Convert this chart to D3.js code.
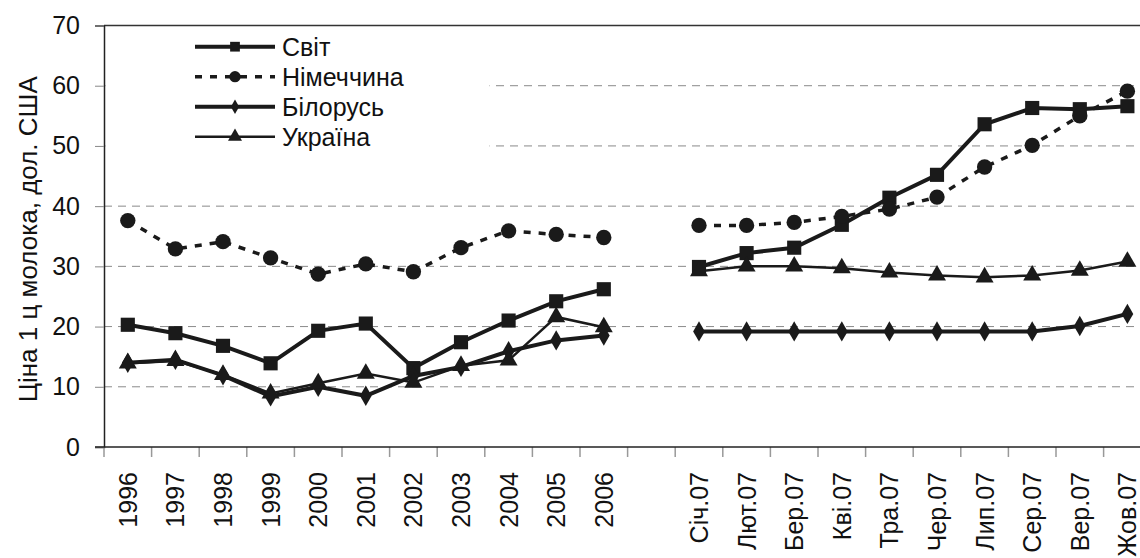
<!DOCTYPE html>
<html>
<head>
<meta charset="utf-8">
<script src="https://cdn.jsdelivr.net/npm/d3@7"></script>
<style>
  html, body { margin: 0; padding: 0; background: #fff; }
  svg { display: block; font-family: "Liberation Sans", Arial, sans-serif; }
</style>
</head>
<body>
<svg id="chart" width="1140" height="558"></svg>
<script>
const categories = ["1996","1997","1998","1999","2000","2001","2002","2003","2004","2005","2006","",
  "Січ.07","Лют.07","Бер.07","Кві.07","Тра.07","Чер.07","Лип.07","Сер.07","Вер.07","Жов.07"];

const seriesNames = ["Світ", "Німеччина", "Білорусь", "Україна"];

const svit      = [20.3,18.9,16.8,13.9,19.3,20.5,13.1,17.4,21.0,24.2,26.2,null,
                   29.9,32.2,33.1,36.9,41.4,45.2,53.6,56.3,56.1,56.6];
const nimechchyna = [37.6,32.9,34.1,31.4,28.7,30.4,29.1,33.1,35.9,35.3,34.8,null,
                   36.8,36.8,37.3,38.3,39.5,41.5,46.5,50.1,55.0,59.1];
const bilorus   = [14.0,14.5,11.9,8.4,10.0,8.5,11.8,13.3,15.9,17.7,18.5,null,
                   19.2,19.2,19.2,19.2,19.2,19.2,19.2,19.2,20.1,22.1];
const ukraina   = [13.9,14.3,12.0,8.9,10.6,12.2,10.7,13.5,14.4,21.6,19.9,null,
                   29.2,30.0,30.0,29.7,29.0,28.5,28.2,28.5,29.3,30.8];

const yTicks = [0,10,20,30,40,50,60,70];
const yTitle = "Ціна 1 ц молока, дол. США";

const svg = d3.select("#chart");
const plotLeft = 104, plotTop = 25.5, plotBottom = 447, band = 47.6;
const fs = 25;
const x = d3.scaleBand().domain(categories).range([plotLeft, plotLeft + band * categories.length]).padding(0);
const y = d3.scaleLinear().domain([0, 70]).range([plotBottom, plotTop]);
const plotRight = x.range()[1];

// gridlines
svg.append("g").selectAll("line").data(yTicks.filter(v => v > 0 && v < 70)).join("line")
  .attr("x1", plotLeft).attr("x2", plotRight)
  .attr("y1", d => y(d)).attr("y2", d => y(d))
  .attr("stroke", "#8a8a8a").attr("stroke-width", 1).attr("stroke-dasharray", "8,6");

// plot border (top + right)
svg.append("path")
  .attr("d", `M${plotLeft},${y(70)}H${plotRight}V${plotBottom}`)
  .attr("fill", "none").attr("stroke", "#333").attr("stroke-width", 1.5);

// legend background box (covers gridlines)
svg.append("rect").attr("x", plotLeft + 1.5).attr("y", y(70) + 1.5).attr("width", 384).attr("height", 128)
  .attr("fill", "#fff");

// y axis
const yAxis = svg.append("g").attr("transform", `translate(${plotLeft},0)`)
  .call(d3.axisLeft(y).tickValues(yTicks).tickSize(9).tickPadding(15).tickFormat(d3.format("d")));
yAxis.select(".domain").attr("stroke", "#222").attr("stroke-width", 1.5);
yAxis.selectAll(".tick line").attr("stroke", "#888");
yAxis.selectAll(".tick text").attr("font-size", fs).attr("fill", "#111")
  .attr("font-family", "Liberation Sans, Arial, sans-serif");

// x axis: labels
const xAxis = svg.append("g").attr("transform", `translate(0,${plotBottom})`)
  .call(d3.axisBottom(x).tickSize(0).tickPadding(0));
xAxis.select(".domain").remove();
xAxis.selectAll(".tick text")
  .attr("font-size", fs).attr("fill", "#111")
  .attr("font-family", "Liberation Sans, Arial, sans-serif")
  .attr("text-anchor", "end")
  .attr("transform", "rotate(-90)")
  .attr("x", -25).attr("y", 0).attr("dy", "0.36em");

// x axis boundary ticks
const bounds = categories.map(c => x(c)).concat([plotRight]);
svg.append("g").selectAll("line").data(bounds).join("line")
  .attr("x1", d => d).attr("x2", d => d).attr("y1", plotBottom).attr("y2", plotBottom + 10)
  .attr("stroke", "#999").attr("stroke-width", 1.5);
svg.append("line").attr("x1", plotLeft - 9).attr("x2", plotRight).attr("y1", plotBottom).attr("y2", plotBottom)
  .attr("stroke", "#222").attr("stroke-width", 1.5);

// markers
const cx = c => x(c) + x.bandwidth() / 2;
const symSquare = d3.symbol().type(d3.symbolSquare);
const symCircle = d3.symbol().type(d3.symbolCircle);
const symDiamond = d3.symbol().type(d3.symbolDiamond);
const symTriangle = d3.symbol().type(d3.symbolTriangle);

const series = [
  { name: seriesNames[0], values: svit, width: 4, dash: null, sym: symSquare, size: 200, lsize: 95 },
  { name: seriesNames[1], values: nimechchyna, width: 3.5, dash: "7,8", sym: symCircle, size: 185, lsize: 100 },
  { name: seriesNames[2], values: bilorus, width: 4, dash: null, sym: symDiamond, size: 120, lsize: 60 },
  { name: seriesNames[3], values: ukraina, width: 2.5, dash: null, sym: symTriangle, size: 140, lsize: 85 }
];

const line = d3.line()
  .defined(d => d.v !== null)
  .x(d => cx(d.c)).y(d => y(d.v));

series.forEach(s => {
  const pts = categories.map((c, i) => ({ c, v: s.values[i] }));
  svg.append("path").datum(pts)
    .attr("d", line).attr("fill", "none")
    .attr("stroke", "#1a1a1a").attr("stroke-width", s.width)
    .attr("stroke-linejoin", "miter")
    .attr("stroke-dasharray", s.dash);
  svg.append("g").selectAll("path").data(pts.filter(d => d.v !== null)).join("path")
    .attr("d", s.sym.size(s.size))
    .attr("transform", d => `translate(${cx(d.c)},${y(d.v)})`)
    .attr("fill", "#1a1a1a");
});

// legend
const lg = svg.append("g");
series.forEach((s, i) => {
  const ry = 46.7 + i * 30;
  lg.append("line").attr("x1", 195).attr("x2", 275).attr("y1", ry).attr("y2", ry)
    .attr("stroke", "#1a1a1a").attr("stroke-width", s.width)
    .attr("stroke-dasharray", s.dash);
  lg.append("path").attr("d", s.sym.size(s.lsize))
    .attr("transform", `translate(235,${ry})`).attr("fill", "#1a1a1a");
  lg.append("text").attr("x", 282).attr("y", ry).attr("dy", "0.36em")
    .attr("font-size", fs).attr("fill", "#111").text(s.name);
});

// y title
svg.append("text")
  .attr("transform", `translate(37,${(y(0) + y(70)) / 2 + 3}) rotate(-90)`)
  .attr("text-anchor", "middle")
  .attr("font-size", 26).attr("fill", "#111")
  .text(yTitle);
</script>
</body>
</html>
